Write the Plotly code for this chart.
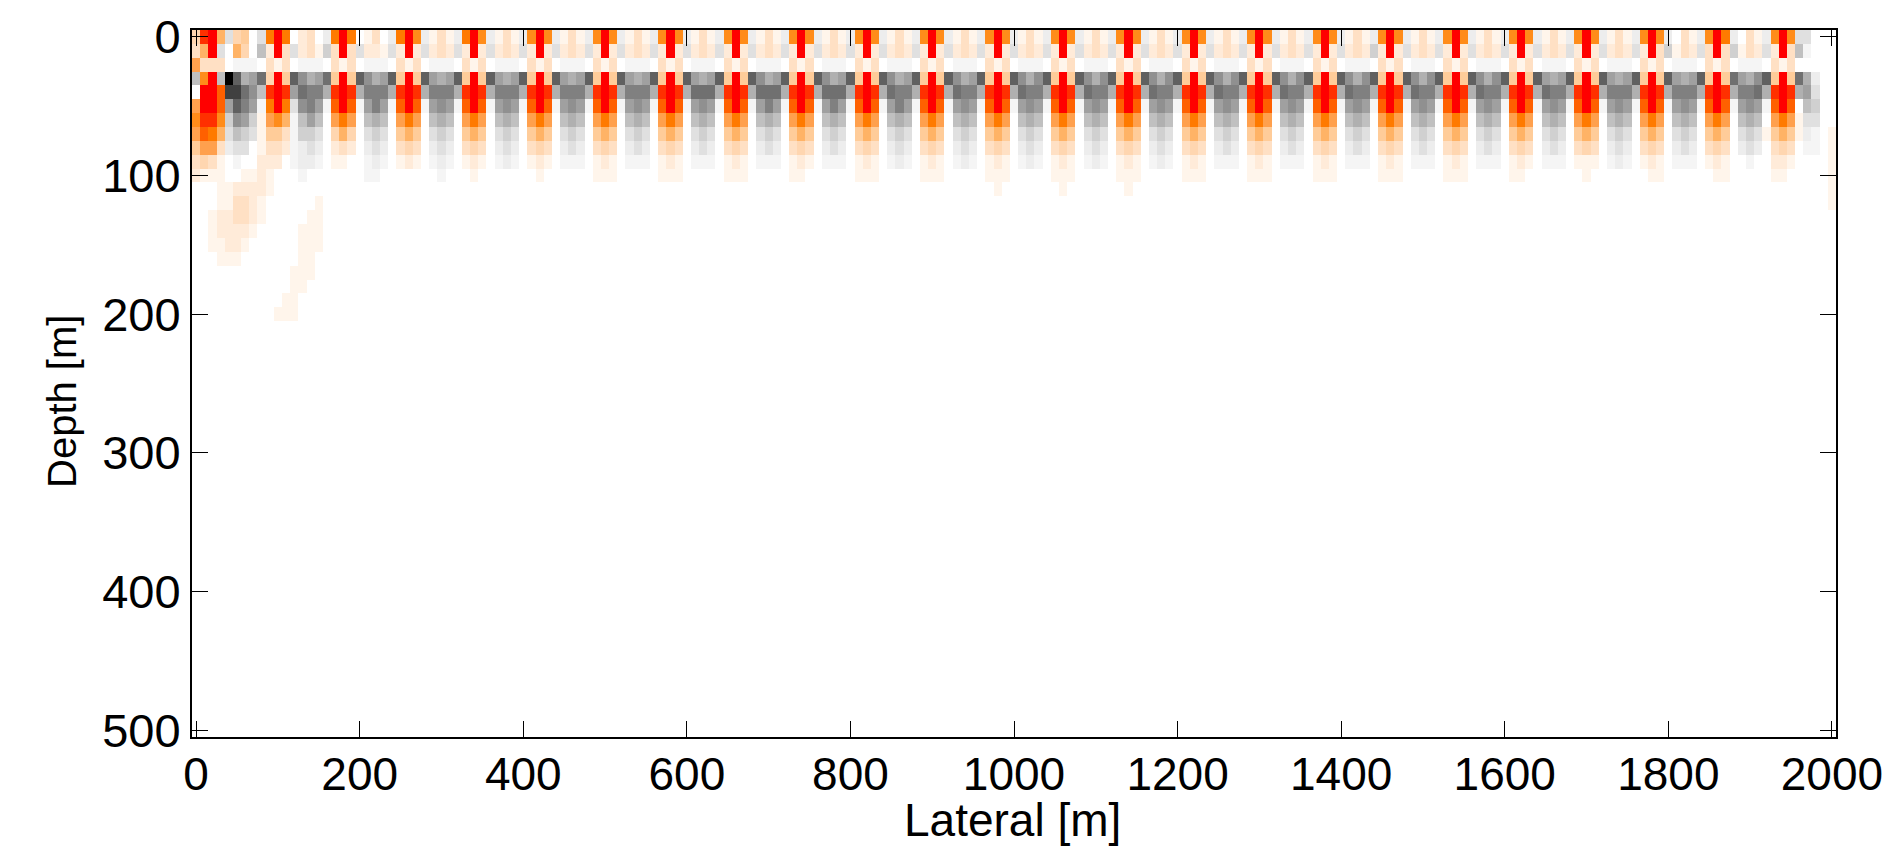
import plotly.graph_objects as go

# Lateral / depth cell centres (10 m cells)
lateral_m = [i * 10 for i in range(201)]
depth_m = [i * 10 for i in range(51)]

# Values, one code per cell: first cell, then 8-cell blocks.
# 0 = zero, 1..9,A,B,C = rising positive levels, a..m = rising negative levels
row_00 = ("4 BC6c450c 9C90230b 9C90130b 9C8b131b 9C8b131b 8C8b131b 8C8b131b 8C8b131b 8C8b131b "
          "8C8b131b 8C8b131b 8C8b131b 8C8b131b 8C8b131b 8C8b131b 8C8b131b 8C8b131b 8C8b131b "
          "8C8b131b 8C8b131b 8C8b131b 8C8b131b 8C8b031b 8C9b031b 8C8cc000")
row_01 = ("3 6Cc0640e 2C3c231d 3C3c221c 2C2c232c 2C2c232c 2C2c232c 2C2c232c 2C2c232c 2C2c232c "
          "2C2c232c 2C2c232c 2C2c232c 2C2c232c 2C2c232c 2C2c232c 2C2c232c 2C2c232c 2C2c232d "
          "2C2c232c 2C2c232c 2C2c232c 2C2c232c 2C3d132c 3C3d132c 2C3ea000")
row_02 = ("7 3330aaa0 3130aaa0 3130aaa0 3130aaa0 3130aaa0 3130aaa0 3130aaa0 3130aaa0 3130aaa0 "
          "3130aaa0 3130aaa0 3130aaa0 3130aaa0 3130aaa0 3130aaa0 3130aaa0 3130aaa0 3130aaa0 "
          "3130aaa0 3130aaa0 3130aaa0 3130aaa0 3130aaa0 3130aaa0 31300000")
row_03 = ("e 8Cemkfgj 4C5khfgj 5C5khfgk 5C5kgfgk 5C5kgfgk 5C5kgfgk 5C5kgfgk 5C5kgfgk 5C5khfgk "
          "5C5khfgk 5C5khfgk 5C5khfgk 5C5khfhk 5C5khfhk 5C5khfhk 5C5khfhk 5C5khfhk 5C5khfhk "
          "5C5khfhk 5C5khfhk 5C5kgfgk 5C5kgfgk 5C5kgfgk 5C5jgfhk 5C5jfb00")
row_04 = ("0 CCAlljhe BCBgjiif BCBfiiif BCBfiiif BCBfiiif BCBfiiif BCBfiiif BCBfjjjf BCBfjjjf "
          "BCBfjjjf BCBfjiif BCBfjiif BCBfjiif BCBfjiif BCBfjiif BCBfjiif BCBfjiif BCBfjiif "
          "BCBfjiif BCBfjiif BCBfjiif BCBfiiif BCBfiiif BCBfiijf BCBfgc00")
row_05 = ("7 CCAgkiga 9C9chiga ACAagiga ACAaghga ACAaghga ACAaghga ACAaghga ACAaghga ACAagiga "
          "ACAagiga ACAagiga ACAaghga ACAaghga ACAaghga ACAaghga ACAaghga ACAaghga ACAaghga "
          "ACAaghga ACAaghga ACAaghga ACAaghga ACAaghga ACAaghga ACA0ed00")
row_06 = ("8 BB8dhgd1 786aege0 7970efe0 7970efe0 7970efe0 7970efe0 7970efe0 7970efe0 7970efe0 "
          "7970efe0 7970efe0 7970efe0 7970efe0 7970efe0 7970efe0 7970efe0 7970efe0 7970efe0 "
          "7970efe0 7970efe0 7970efe0 7970efe0 7970efe0 7970efe0 7971cc00")
row_07 = ("7 A96cedc1 553addc0 4640cdc0 5650cdc0 5650cdc0 5650cdc0 5650cdc0 5650cdc0 5650cdc0 "
          "5650cdc0 5650cdc0 5650cdc0 5650cdc0 5650cdc0 5650cdc0 5650cdc0 5650cdc0 5650cdc0 "
          "5650cdc0 5650cdc0 5650cdc0 5650cdc0 5650cdc0 5650cdc1 5651ba01")
row_08 = ("5 773bcc01 332abcb0 2320bcb0 3430bcb0 3430bcb0 3430bcb0 3430bcb0 3430bcb0 3430bcb0 "
          "3430bcb0 3430bcb0 3430bcb0 3430bcb0 3430bcb0 3430bcb0 3430bcb0 3430bcb0 3430bcb0 "
          "3430bcb0 3430bcb0 3430bcb0 3430bcb0 3430bcb0 3430bcb0 3430aa01")
row_09 = ("3 4310a002 220abba0 1100aba0 1210aba0 1210aba0 1210aaa0 1210aaa0 1210aaa0 1210aaa0 "
          "1210aaa0 1210aba0 1210aba0 1210aba0 1210aba0 1210aba0 1210aaa0 1210aaa0 1210aaa0 "
          "1210aaa0 1210aaa0 1210aaa0 1110aba0 1210aaa0 12100a00 22100001")
row_10 = ("2 11100112 1000a000 0000aa00 00000a00 01000000 01000000 11100000 11100000 11100000 "
          "11000000 11100000 11100000 11100000 11100000 11100000 11100000 11100000 11100000 "
          "11100000 11100000 11000000 01000000 01100000 01100000 11000001")
row_11 = ("0 00112222 10000000 00000000 00000000 00000000 00000000 00000000 00000000 00000000 "
          "00000000 00000000 00000000 01000000 01000000 01000000 00000000 00000000 00000000 "
          "00000000 00000000 00000000 00000000 00000000 00000000 00000001")
row_12 = ("0 00113321 00000010 00000000 00000000 00000000 00000000 00000000 00000000 00000000 "
          "00000000 00000000 00000000 00000000 00000000 00000000 00000000 00000000 00000000 "
          "00000000 00000000 00000000 00000000 00000000 00000000 00000001")
row_13 = "0 01223321 00000110"
row_14 = "0 01222210 00001110"
row_15 = "0 01122100 00001110"
row_16 = "0 00111000 00001100"
row_17 = "0 00000000 00011100"
row_18 = "0 00000000 00011000"
row_19 = "0 00000000 00110000"
row_20 = "0 00000000 01110000"

measured_rows = [row_00, row_01, row_02, row_03, row_04, row_05, row_06, row_07, row_08, row_09,
                 row_10, row_11, row_12, row_13, row_14, row_15, row_16, row_17, row_18, row_19,
                 row_20]

positive_colors = ["#FFF5EB", "#FFEBD9", "#FFE0C4", "#FFD6B0", "#FFCC99", "#FFB366", "#FFA04D",
                   "#FF8C1A", "#FF7A00", "#FF6000", "#FF3000", "#FF0000"]
negative_colors = ["#F5F5F5", "#EDEDED", "#E0E0E0", "#D0D0D0", "#C0C0C0", "#B0B0B0", "#A0A0A0",
                   "#909090", "#808080", "#707070", "#606060", "#404040", "#000000"]
positive_codes = "123456789ABC"
negative_codes = "abcdefghijklm"

code_value = {"0": 0}
for i, ch in enumerate(positive_codes):
    code_value[ch] = i + 1
for i, ch in enumerate(negative_codes):
    code_value[ch] = -(i + 1)

z = []
for d in range(len(depth_m)):
    text = measured_rows[d].replace(" ", "") if d < len(measured_rows) else ""
    text = text.ljust(len(lateral_m), "0")
    z.append([code_value[ch] for ch in text])

ordered = list(reversed(negative_colors)) + ["#FFFFFF"] + positive_colors
n = len(ordered)
colorscale = []
for i, col in enumerate(ordered):
    colorscale.append([i / n, col])
    colorscale.append([(i + 1) / n, col])

FONT = "Liberation Sans, Arial, sans-serif"

fig = go.Figure(go.Heatmap(
    x=lateral_m, y=depth_m, z=z, colorscale=colorscale,
    zmin=-13.5, zmax=12.5, showscale=False,
))

L, R, T, B = 192, 1836, 30, 737
W, H = 1900, 847
fig.update_layout(
    width=W, height=H, autosize=False,
    margin=dict(l=L, r=W - R, t=T, b=H - B, pad=0),
    paper_bgcolor="white", plot_bgcolor="white",
    font=dict(family=FONT, size=47, color="black"),
    showlegend=False,
    annotations=[
        dict(
            text="Depth [m]", xref="paper", yref="paper",
            x=(62 - L) / (R - L), y=(B - 402) / (B - T),
            xanchor="center", yanchor="middle", textangle=-90, showarrow=False,
            font=dict(family=FONT, size=40, color="black"),
        ),
        dict(
            text="Lateral [m]", xref="paper", yref="paper",
            x=(1012 - L) / (R - L), y=(B - 820) / (B - T),
            xanchor="center", yanchor="middle", showarrow=False, borderpad=0,
            font=dict(family=FONT, size=46, color="black"),
        ),
    ],
)
fig.update_xaxes(
    range=[-5, 2005], tickmode="array",
    tickvals=list(range(0, 2001, 200)),
    ticktext=[str(v) for v in range(0, 2001, 200)],
    ticks="inside", ticklen=16, tickwidth=1, tickcolor="black",
    showline=True, linecolor="black", linewidth=2, mirror="ticks",
    showgrid=False, zeroline=False, ticklabelstandoff=-4, automargin=False,
    tickfont=dict(family=FONT, size=46, color="black"),
)
fig.update_yaxes(
    range=[505, -5], tickmode="array",
    tickvals=list(range(0, 501, 100)),
    ticktext=[str(v) for v in range(0, 501, 100)],
    ticks="inside", ticklen=16, tickwidth=1, tickcolor="black",
    showline=True, linecolor="black", linewidth=2, mirror="ticks",
    showgrid=False, zeroline=False, automargin=False,
    tickfont=dict(family=FONT, size=47, color="black"),
)

fig.write_html("out.html", post_script="document.body.style.margin='0';",
               config={"displayModeBar": False})
